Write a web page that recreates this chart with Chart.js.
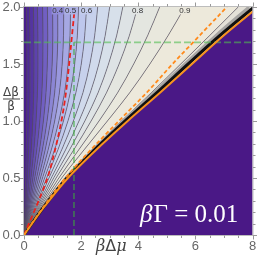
<!DOCTYPE html>
<html><head><meta charset="utf-8">
<script src="https://cdn.jsdelivr.net/npm/chart.js@4"></script>
<style>html,body{margin:0;padding:0;background:#fff;overflow:hidden}</style>
</head><body>
<canvas id="c" width="258" height="255" style="width:258px;height:255px;display:block"></canvas>
<script>
// ---- data ----
const yGrid = [0, 0.1, 0.25, 0.5, 0.75, 1.0, 1.25, 1.5, 1.75, 2.0];
const contourLevels = [0.05,0.10,0.15,0.20,0.25,0.30,0.35,0.40,0.45,0.50,0.55,0.60,0.65,0.70,0.75,0.80,0.85,0.90,0.95];
const c05 = [0, 0.014, 0.032, 0.058, 0.080, 0.094, 0.101, 0.101, 0.097, 0.09];
const c10 = [0, 0.027, 0.064, 0.117, 0.163, 0.193, 0.209, 0.211, 0.204, 0.19];
const c15 = [0, 0.041, 0.097, 0.181, 0.255, 0.309, 0.341, 0.351, 0.345, 0.33];
const c20 = [0, 0.054, 0.130, 0.244, 0.347, 0.423, 0.471, 0.489, 0.486, 0.47];
const c25 = [0, 0.068, 0.164, 0.311, 0.448, 0.554, 0.626, 0.659, 0.665, 0.65];
const c30 = [0, 0.082, 0.197, 0.376, 0.545, 0.679, 0.771, 0.817, 0.832, 0.82];
const c35 = [0, 0.095, 0.231, 0.443, 0.645, 0.808, 0.923, 0.986, 1.009, 1.00];
const c40 = [0, 0.109, 0.265, 0.509, 0.745, 0.936, 1.074, 1.151, 1.183, 1.18];
const c45 = [0, 0.123, 0.299, 0.577, 0.849, 1.074, 1.240, 1.337, 1.383, 1.39];
const c50 = [0, 0.137, 0.334, 0.648, 0.960, 1.222, 1.421, 1.545, 1.611, 1.63];
const c55 = [0, 0.151, 0.369, 0.722, 1.076, 1.382, 1.620, 1.775, 1.868, 1.91];
const c60 = [0, 0.165, 0.404, 0.794, 1.192, 1.539, 1.818, 2.006, 2.126, 2.19];
const c65 = [0, 0.179, 0.441, 0.874, 1.325, 1.730, 2.066, 2.307, 2.475, 2.58];
const c70 = [0, 0.193, 0.478, 0.956, 1.461, 1.926, 2.323, 2.621, 2.843, 3.00];
const c75 = [0, 0.207, 0.516, 1.038, 1.601, 2.130, 2.597, 2.959, 3.244, 3.46];
const c80 = [0, 0.221, 0.553, 1.124, 1.749, 2.350, 2.891, 3.330, 3.690, 3.98];
const c85 = [0, 0.235, 0.593, 1.220, 1.925, 2.626, 3.282, 3.841, 4.330, 4.75];
const c90 = [0, 0.249, 0.635, 1.320, 2.112, 2.920, 3.706, 4.407, 5.047, 5.63];
const c95 = [0, 0.266, 0.683, 1.455, 2.393, 3.410, 4.465, 5.486, 6.500, 7.50];
const contourX = [c05,c10,c15,c20,c25,c30,c35,c40,c45,c50,c55,c60,c65,c70,c75,c80,c85,c90,c95];
const boundaryX  = [0, 0.280, 0.720, 1.540, 2.540, 3.630, 4.770, 5.880, 6.990, 8.20];
const rimBlackX  = [0, 0.274, 0.704, 1.505, 2.485, 3.545, 4.665, 5.750, 6.860, 8.06];
const rimGrayX   = [0, 0.268, 0.690, 1.475, 2.430, 3.470, 4.560, 5.630, 6.720, 7.88];
const orangeDashX = [0, 0.27, 0.69, 1.45, 2.35, 3.32, 4.30, 5.20, 6.15, 7.10];
const redDashX    = [0, 0.17, 0.43, 0.82, 1.09, 1.31, 1.47, 1.58, 1.68, 1.78];
const greenHX = [0, 8];    const greenHY = [1.69, 1.69];
const greenVX = [1.75, 1.75]; const greenVY = [0, 1.69];
const xTicks = [0, 2, 4, 6, 8];
const xTickLabels = ['0', '2', '4', '6', '8'];
const yTicks = [0, 0.5, 1.0, 1.5, 2.0];
const yTickLabels = ['0.0', '0.5', '1.0', '1.5', '2.0'];
const labeledLevels = [0.4, 0.5, 0.6, 0.8, 0.9];
const labeledText = ['0.4', '0.5', '0.6', '0.8', '0.9'];
const annotation = '0.01';

// ---- styles ----
const stops = [[0.00,[68,24,132]],[0.10,[80,45,155]],[0.25,[106,86,190]],[0.40,[146,142,218]],
               [0.55,[186,194,236]],[0.70,[212,223,236]],[0.85,[231,231,222]],[1.00,[242,235,216]]];
function colorAt(v){
  for(let i=1;i<stops.length;i++){ if(v<=stops[i][0]){ const a=stops[i-1],b=stops[i];
    const t=(v-a[0])/(b[0]-a[0]); const c=a[1].map((q,k)=>Math.round(q+(b[1][k]-q)*t));
    return `rgb(${c[0]},${c[1]},${c[2]})`; } }
  return 'rgb(242,235,216)';
}
const pts = (xs, ys) => xs.map((x,i)=>({x, y:(ys||yGrid)[i]}));
const datasets = [];
datasets.push({data: pts(yGrid.map(()=>0)), borderWidth:0, pointRadius:0, fill:false, order:40});
contourX.forEach((xs,i)=>{
  const lo = i===0?0:contourLevels[i-1], hi = contourLevels[i];
  datasets.push({data: pts(xs), borderColor:'rgba(85,85,85,0.8)', borderWidth:0.8, pointRadius:0,
    fill: i, backgroundColor: colorAt((lo+hi)/2), cubicInterpolationMode:'monotone', order:40});
});
const lastIdx = contourX.length;
datasets.push({data: pts(boundaryX), borderWidth:0, pointRadius:0, fill:lastIdx, backgroundColor:'rgb(228,225,216)', cubicInterpolationMode:'monotone', order:45});
datasets.push({data: pts(rimGrayX), borderColor:'#a7a5a2', borderWidth:3, pointRadius:0, fill:false, cubicInterpolationMode:'monotone', order:30});
datasets.push({data: pts(rimBlackX), borderColor:'#111', borderWidth:3.2, pointRadius:0, fill:false, cubicInterpolationMode:'monotone', order:29});
datasets.push({data: pts(greenHX, greenHY), borderColor:'rgba(80,190,80,0.6)', borderWidth:1.8, borderDash:[7,3], pointRadius:0, fill:false, tension:0, order:22});
datasets.push({data: pts(greenVX, greenVY), borderColor:'rgba(60,170,60,0.75)', borderWidth:1.4, borderDash:[6,3], pointRadius:0, fill:false, tension:0, order:22});
datasets.push({data: pts(orangeDashX), borderColor:'#ff8a1c', borderWidth:1.8, borderDash:[4,2.5], pointRadius:0, fill:false, cubicInterpolationMode:'monotone', order:20});
datasets.push({data: pts(redDashX), borderColor:'#e8231f', borderWidth:1.8, borderDash:[5,3], pointRadius:0, fill:false, cubicInterpolationMode:'monotone', order:19});
datasets.push({data: pts(boundaryX), borderColor:'#f7921e', borderWidth:2, pointRadius:0, fill:false, cubicInterpolationMode:'monotone', order:10});

const deco = {
  id:'deco',
  beforeDatasetsDraw(chart){
    const {ctx, chartArea:a} = chart;
    ctx.save(); ctx.fillStyle='#4a1886'; ctx.fillRect(a.left,a.top,a.right-a.left,a.bottom-a.top); ctx.restore();
  },
  afterDatasetsDraw(chart){
    const {ctx, chartArea:a, scales:{x,y}} = chart;
    ctx.save();
    // contour labels
    ctx.font = '8px "Liberation Sans"'; ctx.textAlign='center'; ctx.textBaseline='middle';
    labeledLevels.forEach((lv,k)=>{
      const idx = contourLevels.findIndex(v=>Math.abs(v-lv)<1e-6);
      const px = x.getPixelForValue(contourX[idx][yGrid.length-1]);
      const py = y.getPixelForValue(1.97);
      const w = ctx.measureText(labeledText[k]).width;
      ctx.fillStyle = colorAt(lv); ctx.fillRect(px-w/2-0.5, py-4, w+1, 8);
      ctx.fillStyle = '#333'; ctx.fillText(labeledText[k], px, py);
    });
    // frame
    ctx.strokeStyle='#bdbdbd'; ctx.lineWidth=1;
    ctx.strokeRect(a.left-0.5, a.top-0.5, a.right-a.left+1, a.bottom-a.top+1);
    // ticks
    ctx.strokeStyle='#9a9a9a'; ctx.beginPath();
    for(let v=0; v<=8.001; v+=0.5){ const px=Math.round(x.getPixelForValue(v))+0.5; const L=(Math.abs(v%2)<1e-6)?4:2.5;
      ctx.moveTo(px,a.bottom+0.5); ctx.lineTo(px,a.bottom+0.5+L); ctx.moveTo(px,a.top-0.5); ctx.lineTo(px,a.top-0.5-L); }
    for(let i=0;i<=20;i++){ const v=i/10; const py=Math.round(y.getPixelForValue(v))+0.5; const L=(i%5===0)?4:2.5;
      ctx.moveTo(a.left-0.5,py); ctx.lineTo(a.left-0.5-L,py); ctx.moveTo(a.right+0.5,py); ctx.lineTo(a.right+0.5+L,py); }
    ctx.stroke();
    // tick labels
    ctx.fillStyle='#666'; ctx.font='13px "Liberation Sans"';
    ctx.textAlign='center'; ctx.textBaseline='middle';
    xTicks.forEach((v,i)=>ctx.fillText(xTickLabels[i], x.getPixelForValue(v), 246.5));
    ctx.textAlign='right';
    yTicks.forEach((v,i)=>ctx.fillText(yTickLabels[i], 20.5, y.getPixelForValue(v)+0.5));
    // axis labels
    ctx.fillStyle='#444'; ctx.textAlign='left'; ctx.textBaseline='alphabetic';
    ctx.font='italic 16px "DejaVu Serif"'; ctx.fillText('β', 96, 251);
    let w1 = ctx.measureText('β').width;
    ctx.font='16px "DejaVu Sans"'; ctx.fillText('Δ', 96+w1, 251);
    let w2 = ctx.measureText('Δ').width;
    ctx.font='italic 16px "DejaVu Serif"'; ctx.fillText('μ', 96+w1+w2, 251);
    // y fraction label
    ctx.textAlign='center';
    ctx.font='12px "DejaVu Sans"'; ctx.fillText('Δβ', 11, 96);
    ctx.fillRect(3, 98.5, 17, 1);
    ctx.fillText('β', 11, 110);
    // annotation
    ctx.fillStyle='#fff'; ctx.textAlign='left';
    ctx.font='italic 25px "Liberation Serif"'; ctx.fillText('β', 140, 222);
    let wb = ctx.measureText('β').width;
    ctx.font='25px "Liberation Serif"'; ctx.fillText('Γ = ' + annotation, 140+wb+1, 222);
    ctx.restore();
  }
};

new Chart(document.getElementById('c'), {
  type:'line',
  data:{datasets},
  options:{
    indexAxis:'y', responsive:false, animation:false, devicePixelRatio:1, events:[],
    layout:{padding:{left:24, right:5.5, top:7, bottom:20}},
    scales:{
      x:{type:'linear', min:0, max:8, display:false},
      y:{type:'linear', min:0, max:2, display:false}
    },
    plugins:{legend:{display:false}, tooltip:{enabled:false}, filler:{propagate:false}}
  },
  plugins:[deco]
});
</script>
</body></html>
